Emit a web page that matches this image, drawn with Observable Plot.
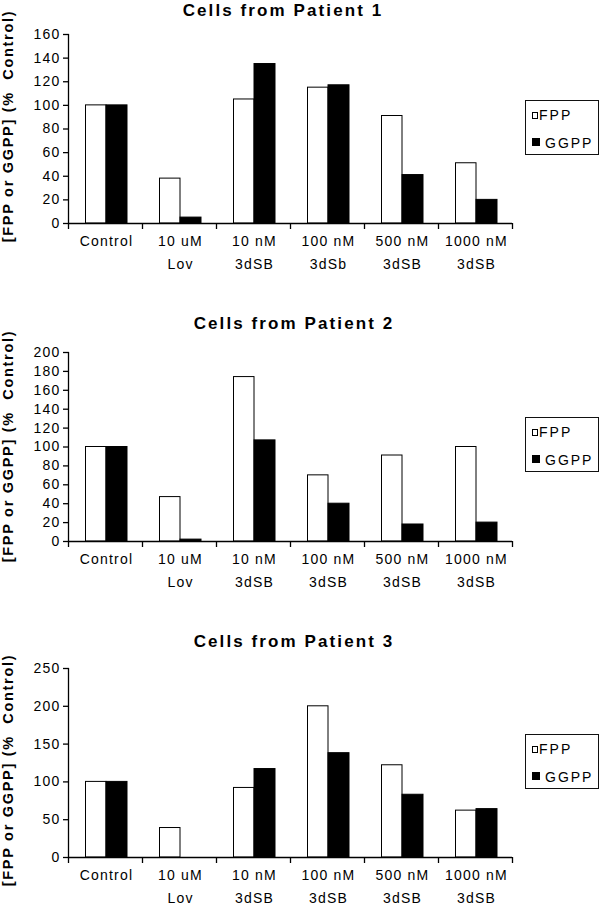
<!DOCTYPE html>
<html>
<head>
<meta charset="utf-8">
<script src="https://cdn.jsdelivr.net/npm/d3@7"></script>
<script src="https://cdn.jsdelivr.net/npm/@observablehq/plot@0.6"></script>
<style>
  body { margin: 0; background: #fff; }
  #fig { position: relative; width: 600px; height: 907px; overflow: hidden; background: #fff; font-family: "Liberation Sans", Arial, sans-serif; color: #000; }
  .title { position: absolute; width: 300px; text-align: center; font-weight: bold; font-size: 17px; letter-spacing: 2.1px; line-height: 20px; white-space: nowrap; }
  .ylab { position: absolute; width: 280px; height: 20px; line-height: 20px; text-align: center; font-weight: bold; font-size: 14.5px; letter-spacing: 1.7px; transform: rotate(-90deg); white-space: pre; }
  .legend { position: absolute; width: 72px; height: 53px; border: 1px solid #111; background: #fff; font-size: 14px; letter-spacing: 2px; }
  .legend .sw { position: absolute; box-sizing: border-box; }
  .legend .lt { position: absolute; line-height: 14px; white-space: nowrap; }
  .panel { position: absolute; left: 0; }
</style>
</head>
<body>
<div id="fig"></div>
<script>
// ---- data ----
const categories1 = ["Control", "10 uM\nLov", "10 nM\n3dSB", "100 nM\n3dSb", "500 nM\n3dSB", "1000 nM\n3dSB"];
const categories23 = ["Control", "10 uM\nLov", "10 nM\n3dSB", "100 nM\n3dSB", "500 nM\n3dSB", "1000 nM\n3dSB"];
const seriesNames = ["FPP", "GGPP"];
const titles = ["Cells from Patient 1", "Cells from Patient 2", "Cells from Patient 3"];
const yLabel = "[FPP or GGPP] (%  Control)";

const p1FPP = [100, 38, 105, 115, 91, 51];
const p1GGPP = [100, 5, 135, 117, 41, 20];
const p2FPP = [100, 47, 174, 70, 91, 100];
const p2GGPP = [100, 2, 107, 40, 18, 20];
const p3FPP = [100, 39, 92, 200, 122, 62];
const p3GGPP = [100, 0, 117, 138, 83, 64];

const p1Ticks = [0, 20, 40, 60, 80, 100, 120, 140, 160];
const p2Ticks = [0, 20, 40, 60, 80, 100, 120, 140, 160, 180, 200];
const p3Ticks = [0, 50, 100, 150, 200, 250];

// ---- layout ----
const panels = [
  {cats: categories1, fpp: p1FPP, ggpp: p1GGPP, ticks: p1Ticks, svgTop: 19.5, titleX: 283, titleY: 11, labelY: 126, legendTop: 100},
  {cats: categories23, fpp: p2FPP, ggpp: p2GGPP, ticks: p2Ticks, svgTop: 337.7, titleX: 294, titleY: 324, labelY: 446, legendTop: 417},
  {cats: categories23, fpp: p3FPP, ggpp: p3GGPP, ticks: p3Ticks, svgTop: 653.7, titleX: 294, titleY: 642, labelY: 770, legendTop: 734}
];

const fig = document.getElementById("fig");
const W = 600, ML = 68, MR = 88, MT = 14, MB = 50, PH = 189;
const band = (W - ML - MR) / 6;

panels.forEach((p, k) => {
  const rows = p.cats.map((c, i) => ({cat: c, FPP: p.fpp[i], GGPP: p.ggpp[i]}));
  const last = p.cats[p.cats.length - 1];
  const chart = Plot.plot({
    width: W,
    height: MT + PH + MB,
    marginLeft: ML, marginRight: MR, marginTop: MT, marginBottom: MB,
    style: {fontFamily: '"Liberation Sans", Arial, sans-serif', fontSize: "14px", letterSpacing: "1.2px", color: "#000", background: "transparent", overflow: "visible"},
    x: {domain: p.cats, padding: 0, axis: null},
    y: {domain: [0, p.ticks[p.ticks.length - 1]], axis: null},
    marks: [
      Plot.barY(rows, {x: "cat", y: "FPP", fill: "white", stroke: "black", strokeWidth: 1, insetLeft: 17.5, insetRight: 36}),
      Plot.barY(rows, {x: "cat", y: "GGPP", fill: "black", stroke: "black", strokeWidth: 1, insetLeft: 38, insetRight: 15}),
      Plot.ruleY([0], {stroke: "black", strokeWidth: 1.3}),
      Plot.frame({anchor: "left", stroke: "black", strokeWidth: 1.3}),
      Plot.axisY({ticks: p.ticks, tickSize: 5, tickPadding: 3, tickFormat: d => String(d), label: null, stroke: "black", strokeWidth: 1.3, fontSize: 14}),
      Plot.ruleX(p.cats, {x: d => d, y1: 0, y2: 0, insetBottom: -6, dx: -band / 2, stroke: "black", strokeWidth: 1.3}),
      Plot.ruleX([last], {x: d => d, y1: 0, y2: 0, insetBottom: -6, dx: band / 2, stroke: "black", strokeWidth: 1.3}),
      Plot.text(p.cats, {x: d => d, text: d => d, frameAnchor: "bottom", lineAnchor: "top", dy: 7, lineHeight: 1.6, dx: 1, fontSize: 14})
    ]
  });
  chart.classList.add("panel");
  chart.style.top = p.svgTop + "px";
  fig.appendChild(chart);

  const t = document.createElement("div");
  t.className = "title";
  t.textContent = titles[k];
  t.style.left = (p.titleX - 150) + "px";
  t.style.top = (p.titleY - 10) + "px";
  fig.appendChild(t);

  const yl = document.createElement("div");
  yl.className = "ylab";
  yl.textContent = yLabel;
  yl.style.left = (8 - 140) + "px";
  yl.style.top = (p.labelY - 10) + "px";
  fig.appendChild(yl);

  const lg = document.createElement("div");
  lg.className = "legend";
  lg.style.left = "525px";
  lg.style.top = p.legendTop + "px";
  lg.innerHTML =
    `<div class="sw" style="left:6px;top:11px;width:6px;height:7px;border:1px solid #000;background:#fff"></div>` +
    `<div class="lt" style="left:13px;top:7px">${seriesNames[0]}</div>` +
    `<div class="sw" style="left:6px;top:37px;width:8px;height:8px;background:#000"></div>` +
    `<div class="lt" style="left:19px;top:35px">${seriesNames[1]}</div>`;
  fig.appendChild(lg);
});
</script>
</body>
</html>
